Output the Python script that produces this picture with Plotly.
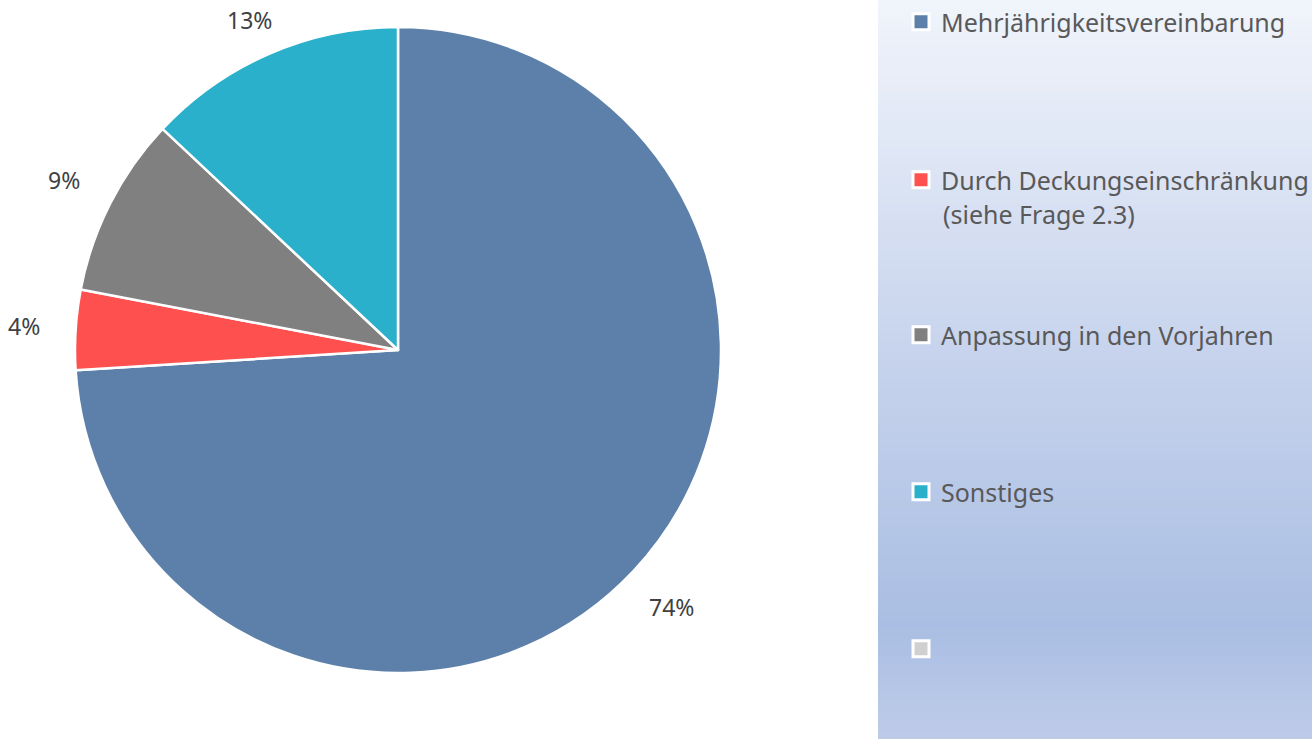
import math

import plotly.graph_objects as go


labels = ["Mehrjährigkeitsvereinbarung", "Durch Deckungseinschränkung<br>(siehe Frage 2.3)",
          "Anpassung in den Vorjahren", "Sonstiges", ""]
values = [74, 4, 9, 13, 0]
colors = ["#5D80AA", "#FF5050", "#808080", "#2AB0CA", "#D0D0D0"]

W, H = 1312, 739
CX, CY, R = 398, 350, 323


def px_x(x):
    return x / W


def px_y(y):
    return 1 - y / H


def lerp_color(stops, t):
    for (t0, c0), (t1, c1) in zip(stops, stops[1:]):
        if t0 <= t <= t1:
            f = (t - t0) / (t1 - t0)
            return "rgb(%d,%d,%d)" % tuple(round(a + (b - a) * f) for a, b in zip(c0, c1))
    return "rgb(%d,%d,%d)" % stops[-1][1]


fig = go.Figure()

fig.add_trace(go.Pie(
    labels=[l.replace("<br>", " ") for l in labels[:4]], values=values[:4], sort=False,
    direction="clockwise", rotation=0,
    marker=dict(colors=colors[:4], line=dict(color="white", width=2.5)),
    textinfo="none", hoverinfo="label+percent", showlegend=False,
    domain=dict(x=[px_x(CX - R), px_x(CX + R)], y=[px_y(CY + R), px_y(CY - R)]),
))

# percentage labels outside the slices
total = sum(values)
annotations = []
cum = 0
for v in values:
    if v <= 0:
        continue
    mid = (cum + v / 2) / total * 2 * math.pi
    cum += v
    rl = R + 52
    lx = CX + rl * math.sin(mid)
    ly = max(CY - rl * math.cos(mid), 20)
    annotations.append(dict(x=px_x(lx), y=px_y(ly),
                            xref="paper", yref="paper", xanchor="center", yanchor="middle",
                            text="%d%%" % round(v / total * 100), showarrow=False,
                            font=dict(family="Noto Sans", size=23, color="#404040")))

# legend entries, one legend per item to get the wide spacing
legend_font = dict(family="Noto Sans", size=25, color="#595959")
legend_y = [22, 180, 335, 492, 649]
for i, (lab, c) in enumerate(zip(labels, colors)):
    key = "legend" if i == 0 else "legend%d" % (i + 1)
    lines = lab.split("<br>")
    fig.add_trace(go.Scatter(
        x=[None], y=[None], mode="markers", name=lines[0] if lines[0] else " ",
        marker=dict(symbol="square", size=16, color=c, line=dict(color="white", width=3)),
        legend=key,
    ))
    fig.layout[key] = dict(x=px_x(901), xanchor="left", y=px_y(legend_y[i]), yanchor="middle",
                           bgcolor="rgba(0,0,0,0)", borderwidth=0, font=legend_font)
    # continuation lines of a wrapped legend label
    for j, extra in enumerate(lines[1:], start=1):
        annotations.append(dict(x=px_x(941), y=px_y(legend_y[i] + 34 * j), xref="paper", yref="paper",
                                xanchor="left", yanchor="middle", text=extra, showarrow=False,
                                font=legend_font))

# gradient background behind the legend
stops = [(0.0, (241, 244, 251)), (0.5, (197, 210, 236)), (0.85, (170, 190, 227)), (1.0, (190, 204, 233))]
n = 80
shapes = []
for k in range(n):
    t = (k + 0.5) / n
    shapes.append(dict(type="rect", xref="paper", yref="paper", x0=px_x(878), x1=1,
                       y0=1 - (k + 1) / n - 0.001, y1=1 - k / n,
                       fillcolor=lerp_color(stops, t), line=dict(width=0), layer="below"))

fig.update_layout(
    width=W, height=H, margin=dict(l=0, r=0, t=0, b=0, autoexpand=False),
    paper_bgcolor="white", plot_bgcolor="rgba(0,0,0,0)",
    xaxis=dict(visible=False), yaxis=dict(visible=False),
    annotations=annotations, shapes=shapes,
)

fig.write_html("out.html", config={"displayModeBar": False},
               post_script="document.body.style.margin='0';document.body.style.overflow='hidden';"
                           "document.documentElement.style.overflow='hidden';")
